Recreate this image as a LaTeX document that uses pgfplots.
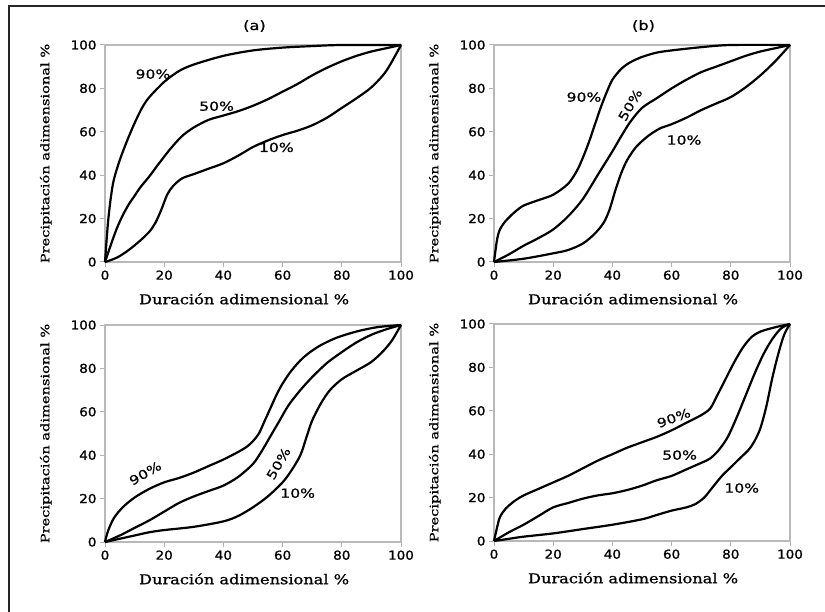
\documentclass[border=0pt]{standalone}
\usepackage{fontspec}
\usepackage{pgfplots}
\pgfplotsset{compat=1.18}
\setmainfont{DejaVu Serif}
\newfontfamily\tickfont[FakeStretch=1.1, FakeBold=1.2]{DejaVu Sans}
\newfontfamily\curvefont[FakeStretch=1.25, FakeBold=0.8]{DejaVu Sans}
\newfontfamily\xlabfont[FakeStretch=1.2, FakeBold=1]{DejaVu Serif}
\newfontfamily\ylabfont[FakeStretch=1.27, FakeBold=1]{DejaVu Serif}

\tikzset{lab/.style={font=\curvefont\fontsize{12.5}{14}\selectfont, inner sep=0pt}}

\pgfplotsset{
  curve/.style={black, line width=2.2pt, smooth, mark=none},
  panel/.style={
    scale only axis, width=296pt, height=217pt,
    xmin=0, xmax=100, ymin=0, ymax=100,
    xtick={0,20,...,100}, ytick={0,20,...,100},
    axis line style={gray!55, line width=1.3pt},
    tick style={gray!60, line width=1pt},
    major tick length=5pt, tick align=outside,
    xtick pos=left, ytick pos=left,
    /pgf/number format/assume math mode=true,
    tick label style={font=\tickfont\fontsize{12.3}{14}\selectfont},
    xlabel={Duración adimensional \%},
    ylabel={Precipitación adimensional \%},
    xlabel style={font=\xlabfont\fontsize{13.5}{15}\selectfont,
      at={(axis description cs:0.47,-0.17)}, anchor=center},
    ylabel style={font=\ylabfont\fontsize{11.5}{13}\selectfont,
      at={(axis description cs:-0.2,0.5)}, anchor=center},
    title style={font=\curvefont\fontsize{13}{15}\selectfont,
      at={(axis description cs:0.505,1.06)}, anchor=center},
    clip=false,
  },
}

\begin{document}
\begin{tikzpicture}
% (a)
\begin{axis}[panel, at={(105pt,-262pt)}, anchor=south west, title={(a)}]
\addplot[curve] coordinates {(0,0)(1,18)(2,30)(3,38)(5,47)(7.5,56)(10,64)(12.5,71)(15,76)(20,83)(25,88)(30,91)(40,95)(50,97.5)(60,98.8)(70,99.5)(80,100)(100,100)};
\addplot[curve] coordinates {(0,0)(2,8)(4,15.5)(6,21.5)(8,26.5)(10,30.5)(12,34.5)(15,39.5)(18,45)(22,52)(26,58)(30,62)(35,65.5)(40,67.5)(45,69.5)(50,72)(55,75)(60,78.5)(65,82)(70,86)(75,89.5)(80,92.5)(85,95)(90,97)(95,98.5)(100,100)};
\addplot[curve] coordinates {(0,0)(4,2)(8,5.5)(12,10)(15,14)(17,18)(19,24)(21,31)(23,35)(26,38.5)(30,40.5)(35,43)(40,45.5)(45,49)(50,53)(55,56)(60,58.5)(65,60.5)(70,63)(75,66.5)(80,71)(85,75.5)(90,80.5)(95,88)(100,100)};
\node[lab] at (axis cs:16.2,86.6) {90\%};
\node[lab] at (axis cs:37.7,71.8) {50\%};
\node[lab] at (axis cs:57.9,52.8) {10\%};
\end{axis}
% (b)
\begin{axis}[panel, at={(494pt,-262pt)}, anchor=south west, title={(b)}]
\addplot[curve] coordinates {(0,0)(1,10)(2,15)(4,19)(7,23)(10,26)(15,28.5)(20,31)(25,36)(28,42)(30,48)(32,55)(34,63)(36,71)(38,78)(40,84)(43,89)(46,92)(50,94.5)(55,96.5)(60,97.5)(70,99)(80,100)(100,100)};
\addplot[curve] coordinates {(0,0)(5,3.5)(10,7.5)(15,11)(20,15)(25,21)(30,29)(35,40)(40,51)(43,58)(46,64.5)(50,71)(55,75.5)(60,80)(65,84)(70,87.5)(75,90)(80,92.5)(85,95)(90,97)(95,98.5)(100,100)};
\addplot[curve] coordinates {(0,0)(10,1.5)(20,4)(25,5.5)(30,8.5)(34,13)(37,18)(39,24)(41,33)(43,41)(45,47)(48,53)(52,58)(56,61.5)(60,63.5)(65,66.5)(70,70)(75,73)(80,76)(85,80.5)(90,86)(95,92.5)(100,100)};
\node[lab] at (axis cs:30.4,76) {90\%};
\node[lab, rotate=60] at (axis cs:46,72.4) {50\%};
\node[lab] at (axis cs:64.2,56.2) {10\%};
\end{axis}
% (c)
\begin{axis}[panel, at={(105pt,-542pt)}, anchor=south west]
\addplot[curve] coordinates {(0,0)(1,5)(3,11)(6,16)(10,20.5)(15,24.5)(20,27.5)(25,29.5)(30,32)(35,35)(40,38)(45,41.5)(48,44)(50,46.5)(52,50)(54,56)(56,62)(58,68)(60,73)(63,79)(67,85)(72,90)(78,94)(85,97)(92,99)(100,100)};
\addplot[curve] coordinates {(0,0)(5,3)(10,6.5)(15,10)(20,14)(25,18)(30,21)(35,23.5)(40,26)(45,30)(50,36)(53,42)(56,49)(59,56)(62,63)(66,70)(70,76)(75,82.5)(80,87.5)(85,92)(90,95.5)(95,98)(100,100)};
\addplot[curve] coordinates {(0,0)(5,1.5)(10,3)(15,4.5)(20,5.5)(30,7)(40,9.5)(45,12)(50,16)(55,21)(60,27.5)(63,33)(66,40)(68,48)(70,56)(73,64)(76,70)(80,75)(85,79)(90,83)(94,88)(97,93)(100,100)};
\node[lab, rotate=30] at (axis cs:13.6,31.7) {90\%};
\node[lab, rotate=60] at (axis cs:58.6,36.2) {50\%};
\node[lab] at (axis cs:65.1,22.5) {10\%};
\end{axis}
% (d)
\begin{axis}[panel, at={(494pt,-541pt)}, anchor=south west]
\addplot[curve] coordinates {(0,0)(1,6)(2,11)(4,15)(7,18.5)(10,21)(15,24)(20,27)(25,30)(30,33.5)(35,37)(40,40)(45,43)(50,45.5)(55,48)(60,51)(65,54.5)(70,58)(73,61)(75,66)(78,74)(81,82)(84,89)(87,94)(90,96.5)(95,98.5)(100,100)};
\addplot[curve] coordinates {(0,0)(5,4)(10,7.5)(15,11.5)(20,15.5)(25,17.5)(30,19.5)(35,21)(40,22)(45,23.5)(50,25.5)(55,28)(60,30)(65,33)(70,36)(73,38)(76,42)(79,48)(82,57)(85,67)(88,77)(91,86)(94,93)(97,98)(100,100)};
\addplot[curve] coordinates {(0,0)(5,1)(10,2)(20,3.5)(30,5.5)(40,7.5)(50,10)(55,12)(60,14)(65,15.5)(68,17)(71,20)(74,25)(77,30)(80,34)(83,38)(86,42)(88,46)(90,52)(92,62)(94,75)(96,86)(98,95)(100,100)};
\node[lab, rotate=20] at (axis cs:60.7,56.7) {90\%};
\node[lab] at (axis cs:62.7,39.6) {50\%};
\node[lab] at (axis cs:83.7,24.4) {10\%};
\end{axis}
\draw[line width=2.2pt, black!85] (9pt,-612pt) -- (9pt,-6pt) -- (825pt,-6pt);
\pgfresetboundingbox
\path[use as bounding box] (0pt,0pt) rectangle (825pt,-612pt);
\end{tikzpicture}
\end{document}
